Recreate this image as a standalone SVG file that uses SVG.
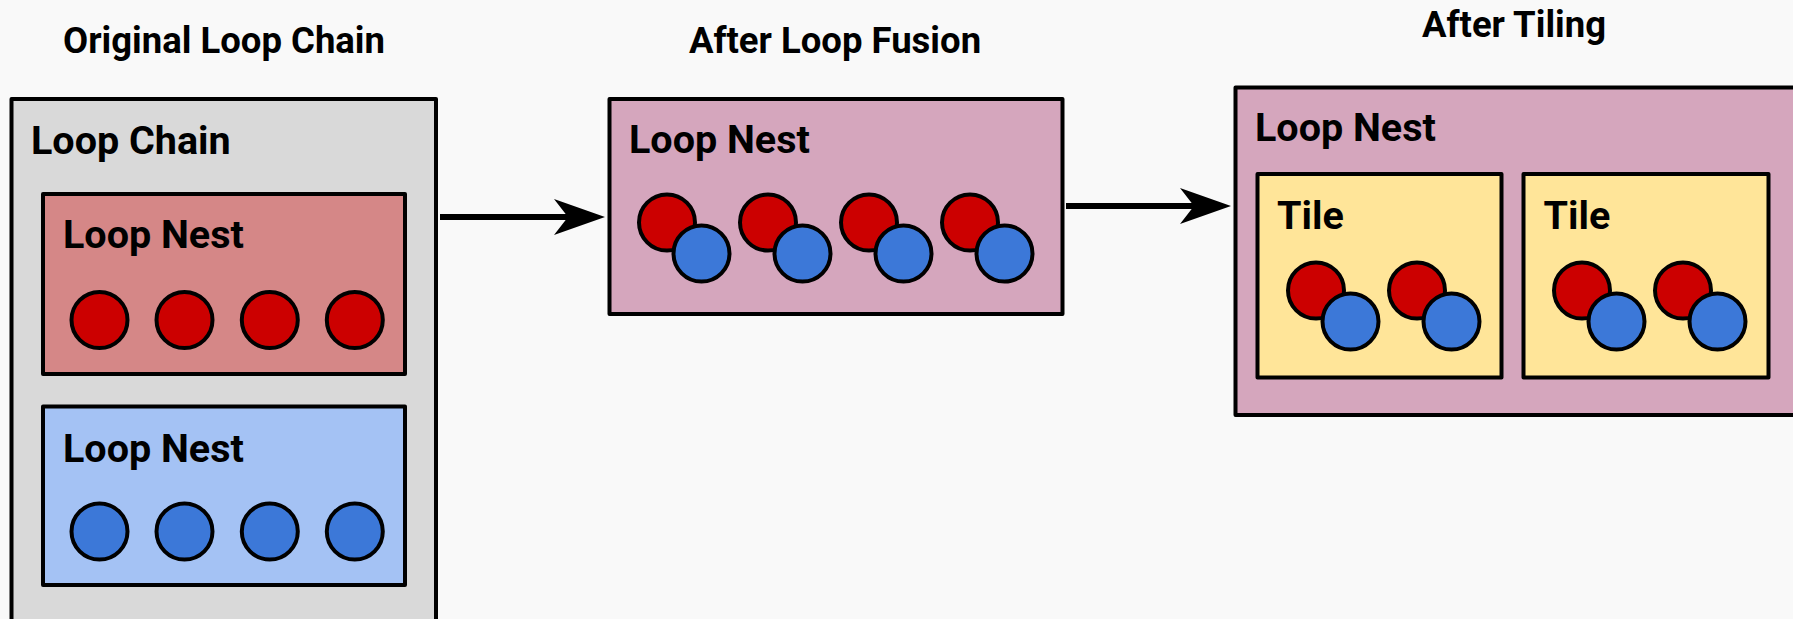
<svg xmlns="http://www.w3.org/2000/svg" width="1793" height="619" viewBox="0 0 1793 619">
  <style>
    text { font-family: Roboto, "Liberation Sans", sans-serif; font-weight: bold; fill: #000; }
    .title { font-size: 36.5px; text-anchor: middle; }
    .label { font-size: 39.5px; }
    .box { stroke: #000; stroke-width: 4; stroke-linejoin: round; }
    .chain { fill: #d9d9d9; }
    .rednest { fill: #d58787; }
    .bluenest { fill: #a4c2f4; }
    .nest { fill: #d5a6bd; }
    .tile { fill: #ffe599; }
    .r { fill: #cc0000; stroke: #000; stroke-width: 4; }
    .b { fill: #3c78d8; stroke: #000; stroke-width: 4; }
    .conn { stroke: #000; stroke-width: 6; fill: none; }
  </style>
  <defs>
    <marker id="head" markerUnits="userSpaceOnUse" viewBox="0 0 51 36" markerWidth="51" markerHeight="36" refX="14" refY="18" orient="auto">
      <path d="M0,0 L51,18 L0,36 L14,18 Z" fill="#000"/>
    </marker>
    <g id="pair">
      <circle class="r" cx="0" cy="0" r="28"/>
      <circle class="b" cx="34.5" cy="31" r="28"/>
    </g>
  </defs>

  <rect width="1793" height="619" fill="#f9f9f9"/>

  <!-- column headings -->
  <text class="title" x="224" y="53">Original Loop Chain</text>
  <text class="title" x="835" y="53">After Loop Fusion</text>
  <text class="title" x="1514" y="37">After Tiling</text>

  <!-- original loop chain -->
  <g id="loop-chain">
    <rect class="box chain" x="11.5" y="99" width="424.5" height="523"/>
    <text class="label" x="31" y="154">Loop Chain</text>
  </g>
  <g id="red-nest">
    <rect class="box rednest" x="43" y="194" width="362" height="180"/>
    <text class="label" x="63" y="248">Loop Nest</text>
    <circle class="r" cx="99.5" cy="320" r="28"/>
    <circle class="r" cx="184.5" cy="320" r="28"/>
    <circle class="r" cx="269.8" cy="320" r="28"/>
    <circle class="r" cx="354.8" cy="320" r="28"/>
  </g>
  <g id="blue-nest">
    <rect class="box bluenest" x="43" y="406.5" width="362" height="178.5"/>
    <text class="label" x="63" y="461.5">Loop Nest</text>
    <circle class="b" cx="99.5" cy="531.5" r="28"/>
    <circle class="b" cx="184.5" cy="531.5" r="28"/>
    <circle class="b" cx="269.8" cy="531.5" r="28"/>
    <circle class="b" cx="354.8" cy="531.5" r="28"/>
  </g>

  <!-- fused loop nest -->
  <g id="fused-nest">
    <rect class="box nest" x="609.5" y="99" width="453" height="215"/>
    <text class="label" x="629" y="152.5">Loop Nest</text>
    <use href="#pair" x="667" y="222.5"/>
    <use href="#pair" x="768" y="222.5"/>
    <use href="#pair" x="869" y="222.5"/>
    <use href="#pair" x="970" y="222.5"/>
  </g>

  <!-- tiled loop nest -->
  <g id="tiled-nest">
    <rect class="box nest" x="1235.5" y="87.5" width="600" height="327.5"/>
    <text class="label" x="1255" y="141">Loop Nest</text>
  </g>
  <g id="tile-1">
    <rect class="box tile" x="1257.5" y="174" width="244" height="203.5"/>
    <text class="label" x="1277" y="229">Tile</text>
    <use href="#pair" x="1316" y="290.5"/>
    <use href="#pair" x="1417" y="290.5"/>
  </g>
  <g id="tile-2">
    <rect class="box tile" x="1523.5" y="174" width="245" height="203.5"/>
    <text class="label" x="1543.5" y="229">Tile</text>
    <use href="#pair" x="1582" y="290.5"/>
    <use href="#pair" x="1683" y="290.5"/>
  </g>

  <!-- transformation arrows -->
  <g id="connectors">
    <path class="conn" d="M440,217 L568,217" marker-end="url(#head)"/>
    <path class="conn" d="M1066,206 L1194,206" marker-end="url(#head)"/>
  </g>
</svg>
